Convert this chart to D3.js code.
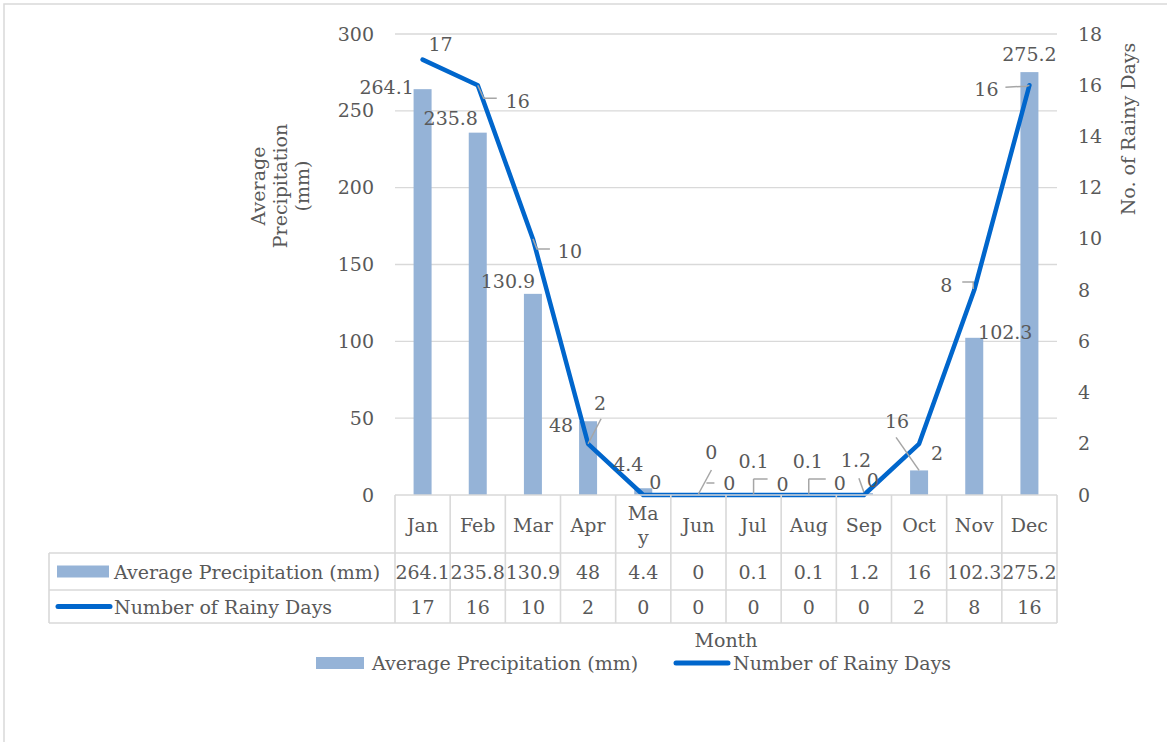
<!DOCTYPE html>
<html>
<head>
<meta charset="utf-8">
<script src="https://cdn.jsdelivr.net/npm/d3@7"></script>
<style>
  html, body { margin: 0; padding: 0; background: #fff; }
  svg { display: block; }
  text { font-family: "DejaVu Serif", "Liberation Serif", serif; fill: #595959; }
</style>
</head>
<body>
<svg id="chart" width="1167" height="742"></svg>
<script>
// ---- data ----
const months = ["Jan", "Feb", "Mar", "Apr", "May", "Jun", "Jul", "Aug", "Sep", "Oct", "Nov", "Dec"];
const precipitation = [264.1, 235.8, 130.9, 48, 4.4, 0, 0.1, 0.1, 1.2, 16, 102.3, 275.2];
const rainyDays = [17, 16, 10, 2, 0, 0, 0, 0, 0, 2, 8, 16];
const precipTicks = [0, 50, 100, 150, 200, 250, 300];
const daysTicks = [0, 2, 4, 6, 8, 10, 12, 14, 16, 18];
const precipName = "Average Precipitation (mm)";
const daysName = "Number of Rainy Days";
// month names wrapped inside narrow table cells
const monthLines = { May: ["Ma", "y"] };

// ---- label placement (pixel offsets from each mark's anchor) ----
const precipLabelOffset = [[-36, -2], [-27, -14], [-25, -13], [-27, 4], [-15, -24], [13, -43],
                           [0, -33], [-1, -33], [-8, -33], [-22, -49], [31, -5], [0, -18]];
const precipLeaders = { 5: [[0, -1], [13, -25]], 6: [[0, -1], [0, -16]], 7: [[0, -1], [0, -16]],
                        8: [[0, -1], [-5, -15]], 9: [[0, 0], [-23, -33]] };
const daysLabelOffset = [[18, -15], [40, 16], [37, 12], [12, -40], [12, -13], [31, -12],
                         [29, -11], [31, -12], [9, -15], [18, 10], [-28, -5], [-43, 4]];
const daysLeaders = { 1: [[0, 0], [6, 13], [19, 13]], 2: [[0, 0], [4, 10], [17, 10]],
                      3: [[0, 0], [13, -25]], 5: [[8, -12], [16, -12]], 6: [[0, -16], [14, -16]],
                      7: [[0, -16], [17, -16]], 10: [[-1, -1], [-1, -8], [-12, -8]],
                      11: [[0, 0], [-3, 1], [-24, 2]] };

// ---- layout ----
const svg = d3.select("#chart");
const FS = 19;
const textColor = "#595959";
const gridColor = "#d9d9d9";
const barColor = "#95b3d7";
const lineColor = "#0066cc";
const plot = { left: 395, right: 1057, top: 34, bottom: 495 };
const table = { left: 49, rows: [495, 553, 590, 623] };

const x = d3.scaleBand().domain(months).range([plot.left, plot.right]).paddingInner(0).paddingOuter(0);
const yL = d3.scaleLinear().domain([0, 300]).range([plot.bottom, plot.top]);
const yR = d3.scaleLinear().domain([0, 18]).range([plot.bottom, plot.top]);
const cx = m => x(m) + x.bandwidth() / 2;
const barW = 18;

// chart frame
svg.append("rect").attr("x", 4).attr("y", 4).attr("width", 1300).attr("height", 900)
  .attr("fill", "none").attr("stroke", gridColor).attr("stroke-width", 1.5);

// gridlines
svg.append("g").selectAll("line").data(precipTicks.filter(t => t > 0)).join("line")
  .attr("x1", plot.left).attr("x2", plot.right)
  .attr("y1", d => yL(d)).attr("y2", d => yL(d))
  .attr("stroke", gridColor).attr("stroke-width", 1.3);

// left axis ticks
const leftAxis = d3.axisLeft(yL).tickValues(precipTicks).tickSize(0).tickPadding(0).tickFormat(d3.format("d"));
const gL = svg.append("g").attr("transform", `translate(${plot.left - 21},0)`).call(leftAxis);
gL.select(".domain").remove();
gL.selectAll("text").attr("font-size", FS).attr("fill", textColor).style("font-family", null);

// right axis ticks
const rightAxis = d3.axisRight(yR).tickValues(daysTicks).tickSize(0).tickPadding(0).tickFormat(d3.format("d"));
const gR = svg.append("g").attr("transform", `translate(${plot.right + 21},0)`).call(rightAxis);
gR.select(".domain").remove();
gR.selectAll("text").attr("font-size", FS).attr("fill", textColor).style("font-family", null);

// axis titles
const leftTitle = svg.append("text").attr("transform", "translate(280,186) rotate(-90)")
  .attr("text-anchor", "middle").attr("font-size", FS);
["Average", "Precipitation", "(mm)"].forEach((t, i) => {
  leftTitle.append("tspan").attr("x", 0).attr("y", (i - 1) * 22).attr("dy", "0.35em").text(t);
});
svg.append("text").attr("transform", "translate(1128,129) rotate(-90)")
  .attr("text-anchor", "middle").attr("dy", "0.35em").attr("font-size", FS).text("No. of Rainy Days");

// bars
svg.append("g").selectAll("rect").data(months).join("rect")
  .attr("x", m => cx(m) - barW / 2).attr("width", barW)
  .attr("y", (m, i) => yL(precipitation[i]))
  .attr("height", (m, i) => yL(0) - yL(precipitation[i]))
  .attr("fill", barColor);

// line
const line = d3.line().x(d => cx(d.m)).y(d => yR(d.v));
const pts = months.map((m, i) => ({ m, v: rainyDays[i] }));
svg.append("path").datum(pts).attr("d", line)
  .attr("fill", "none").attr("stroke", lineColor).attr("stroke-width", 4.5)
  .attr("stroke-linejoin", "round").attr("stroke-linecap", "round");

// leader lines
const leaderLine = d3.line();
function drawLeaders(leaders, anchorY) {
  Object.entries(leaders).forEach(([k, segs]) => {
    const i = +k, ax = cx(months[i]), ay = anchorY(i);
    svg.append("path").attr("d", leaderLine(segs.map(([dx, dy]) => [ax + dx, ay + dy])))
      .attr("fill", "none").attr("stroke", "#a6a6a6").attr("stroke-width", 1.5);
  });
}
drawLeaders(precipLeaders, i => yL(precipitation[i]));
drawLeaders(daysLeaders, i => yR(rainyDays[i]));

// data labels
svg.append("g").selectAll("text").data(months).join("text")
  .attr("x", (m, i) => cx(m) + precipLabelOffset[i][0])
  .attr("y", (m, i) => yL(precipitation[i]) + precipLabelOffset[i][1])
  .attr("dy", "0.35em").attr("text-anchor", "middle").attr("font-size", FS).attr("fill", "#404040")
  .text((m, i) => precipitation[i]);
svg.append("g").selectAll("text").data(months).join("text")
  .attr("x", (m, i) => cx(m) + daysLabelOffset[i][0])
  .attr("y", (m, i) => yR(rainyDays[i]) + daysLabelOffset[i][1])
  .attr("dy", "0.35em").attr("text-anchor", "middle").attr("font-size", FS).attr("fill", "#404040")
  .text((m, i) => rainyDays[i]);

// ---- data table ----
const tg = svg.append("g");
const [r0, r1, r2, r3] = table.rows;
const borderW = 1.6;
// horizontal rules
tg.append("line").attr("x1", plot.left).attr("x2", plot.right).attr("y1", r0).attr("y2", r0);
[r1, r2, r3].forEach(r => tg.append("line").attr("x1", table.left).attr("x2", plot.right).attr("y1", r).attr("y2", r));
// vertical rules
months.forEach(m => tg.append("line").attr("x1", x(m)).attr("x2", x(m)).attr("y1", r0).attr("y2", r3));
tg.append("line").attr("x1", plot.right).attr("x2", plot.right).attr("y1", r0).attr("y2", r3);
tg.append("line").attr("x1", table.left).attr("x2", table.left).attr("y1", r1).attr("y2", r3);
tg.selectAll("line").attr("stroke", gridColor).attr("stroke-width", borderW);

// header cells
months.forEach(m => {
  const lines = monthLines[m] || [m];
  const t = tg.append("text").attr("text-anchor", "middle").attr("font-size", FS);
  lines.forEach((s, j) => {
    t.append("tspan").attr("x", cx(m))
      .attr("y", (r0 + r1) / 2 + 1 + (j - (lines.length - 1) / 2) * 24)
      .attr("dy", "0.35em").text(s);
  });
});
// value cells
months.forEach((m, i) => {
  tg.append("text").attr("x", cx(m)).attr("y", (r1 + r2) / 2 + 1).attr("dy", "0.35em")
    .attr("text-anchor", "middle").attr("font-size", FS).text(precipitation[i]);
  tg.append("text").attr("x", cx(m)).attr("y", (r2 + r3) / 2 + 1).attr("dy", "0.35em")
    .attr("text-anchor", "middle").attr("font-size", FS).text(rainyDays[i]);
});
// row keys
tg.append("rect").attr("x", 57).attr("y", (r1 + r2) / 2 - 6).attr("width", 52).attr("height", 12).attr("fill", barColor);
tg.append("text").attr("x", 114).attr("y", (r1 + r2) / 2 + 1).attr("dy", "0.35em").attr("font-size", FS).text(precipName);
tg.append("line").attr("x1", 58).attr("x2", 110).attr("y1", (r2 + r3) / 2).attr("y2", (r2 + r3) / 2)
  .attr("stroke", lineColor).attr("stroke-width", 5).attr("stroke-linecap", "round");
tg.append("text").attr("x", 114).attr("y", (r2 + r3) / 2 + 1).attr("dy", "0.35em").attr("font-size", FS).text(daysName);

// x axis title
svg.append("text").attr("x", 726).attr("y", 640).attr("dy", "0.35em").attr("text-anchor", "middle")
  .attr("font-size", FS).text("Month");

// legend
const lg = svg.append("g");
lg.append("rect").attr("x", 316).attr("y", 657).attr("width", 48).attr("height", 12).attr("fill", barColor);
lg.append("text").attr("x", 372).attr("y", 663).attr("dy", "0.35em").attr("font-size", FS).text(precipName);
lg.append("line").attr("x1", 676).attr("x2", 728).attr("y1", 663).attr("y2", 663)
  .attr("stroke", lineColor).attr("stroke-width", 5).attr("stroke-linecap", "round");
lg.append("text").attr("x", 733).attr("y", 663).attr("dy", "0.35em").attr("font-size", FS).text(daysName);
</script>
</body>
</html>
